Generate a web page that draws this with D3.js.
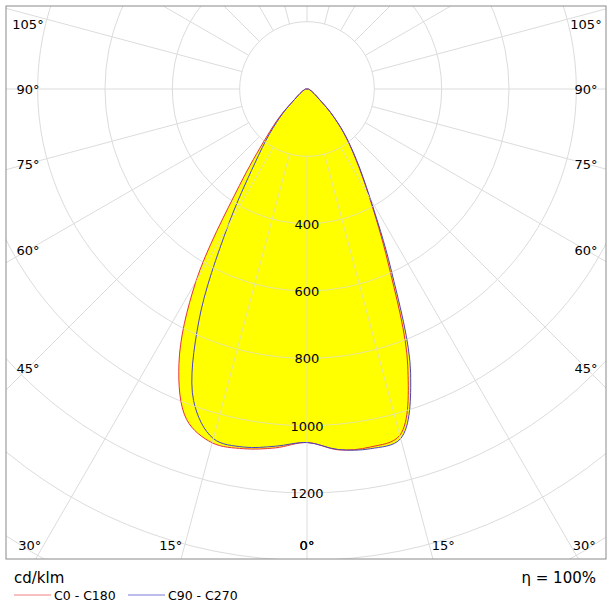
<!DOCTYPE html>
<html><head><meta charset="utf-8">
<script src="https://cdn.jsdelivr.net/npm/d3@7"></script>
<style>body{margin:0;background:#fff}</style>
</head><body><svg id="c" width="616" height="611"></svg>
<script>
// gamma angles (deg) for each half plane
const gammas = [0,5,10,15,20,25,30,35,40,45,50,55,60,65,70,75,80,85,90];
// cd/klm values
const c180 = [1050,1070,1085,1088,1045,900,660,350,190,110,48,30,20,15,10,8,6,5,4];
const c0   = [1050,1076,1080,1065,875,570,370,250,170,100,48,30,20,15,10,8,6,5,4];
const c270 = [1050,1065,1080,1075,985,760,470,272,172,100,48,30,20,15,10,8,6,5,4];
const c90  = [1050,1075,1085,1075,900,590,375,255,170,100,48,30,20,15,10,8,6,5,4];
const rings = [200,400,600,800,1000,1200,1400,1600,1800];
const ringLabels = [400,600,800,1000,1200];
const sideAngles = [45,60,75,90,105];
const bottomAngles = [0,15,30];

const svg = d3.select('#c');
const font = 'Tahoma, "DejaVu Sans", sans-serif';
const frame = {x0: 6, y0: 6, x1: 606, y1: 559};
const cx = 307, cy = 89;
const r = d3.scaleLinear().domain([0, 1200]).range([0, 404]);

// point for gamma (deg from nadir), side -1 left / +1 right
const pt = (g, v, side) => {
  const a = g * Math.PI / 180;
  return [cx + side * r(v) * Math.sin(a), cy + r(v) * Math.cos(a)];
};

svg.append('clipPath').attr('id', 'clip').append('rect')
  .attr('x', frame.x0).attr('y', frame.y0)
  .attr('width', frame.x1 - frame.x0).attr('height', frame.y1 - frame.y0);

const grid = svg.append('g').attr('clip-path', 'url(#clip)');
grid.selectAll('circle').data(rings).join('circle')
  .attr('cx', cx).attr('cy', cy).attr('r', d => r(d))
  .attr('fill', 'none').attr('stroke', '#dcdcdc').attr('stroke-width', 1);
grid.selectAll('line').data(d3.range(0, 360, 15)).join('line')
  .attr('x1', d => pt(d, 200, 1)[0]).attr('y1', d => pt(d, 200, 1)[1])
  .attr('x2', d => pt(d, 2400, 1)[0]).attr('y2', d => pt(d, 2400, 1)[1])
  .attr('stroke', '#dcdcdc').attr('stroke-width', 1);

const line = d3.line().curve(d3.curveCatmullRom.alpha(0.5));
function outline(left, right) {
  const pts = [];
  for (let i = gammas.length - 1; i >= 0; i--) pts.push(pt(gammas[i], left[i], -1));
  for (let i = 1; i < gammas.length; i++) pts.push(pt(gammas[i], right[i], 1));
  return line(pts) + 'Z';
}
const curves = [
  {left: c180, right: c0, color: '#e8303c'},
  {left: c270, right: c90, color: '#4a44c8'}
];
const plot = svg.append('g');
plot.selectAll('path.fill').data(curves).join('path').attr('class', 'fill')
  .attr('d', d => outline(d.left, d.right)).attr('fill', '#ffff00');

// grid shows faintly over fill
const g2 = svg.append('g').attr('clip-path', 'url(#clip)').attr('opacity', 0.9);
g2.selectAll('circle').data(rings).join('circle')
  .attr('cx', cx).attr('cy', cy).attr('r', d => r(d))
  .attr('fill', 'none').attr('stroke', '#e4e4b0');
g2.selectAll('line').data(d3.range(-30, 31, 15)).join('line')
  .attr('x1', d => pt(Math.abs(d), 200, Math.sign(d) || 1)[0]).attr('y1', d => pt(Math.abs(d), 200, 1)[1])
  .attr('x2', d => pt(Math.abs(d), 1200, Math.sign(d) || 1)[0]).attr('y2', d => pt(Math.abs(d), 1200, 1)[1])
  .attr('stroke', '#e4e4b0');
g2.append('clipPath').attr('id', 'inFill').selectAll('path').data(curves).join('path')
  .attr('d', d => outline(d.left, d.right));
g2.attr('clip-path', 'url(#inFill)');

plot.selectAll('path.stroke').data(curves).join('path').attr('class', 'stroke')
  .attr('d', d => outline(d.left, d.right))
  .attr('fill', 'none').attr('stroke', d => d.color).attr('stroke-width', 1);

svg.append('rect').attr('x', frame.x0).attr('y', frame.y0)
  .attr('width', frame.x1 - frame.x0).attr('height', frame.y1 - frame.y0)
  .attr('fill', 'none').attr('stroke', '#8a8a8a');

svg.selectAll('text.rl').data(ringLabels).join('text').attr('class', 'rl')
  .attr('x', cx).attr('y', d => cy + r(d) + 5).attr('text-anchor', 'middle')
  .attr('font-family', font).attr('font-size', 13).text(d => d);

const sideY = g => Math.max(24, cy + (cx - 28) / Math.tan(g * Math.PI / 180));
[-1, 1].forEach(s => {
  svg.selectAll(null).data(sideAngles).join('text')
    .attr('x', s < 0 ? 28 : 586).attr('y', d => sideY(d) + 5).attr('text-anchor', 'middle')
    .attr('font-family', font).attr('font-size', 13).text(d => d + '°');
  svg.selectAll(null).data(bottomAngles).join('text')
    .attr('x', d => d === 0 ? cx : cx + s * Math.min(279, (545 - cy) * Math.tan(d * Math.PI / 180) + 14))
    .attr('y', 550).attr('text-anchor', 'middle')
    .attr('font-family', font).attr('font-size', 13).text(d => d + '°');
});

svg.append('text').attr('x', 14).attr('y', 583).attr('font-family', font)
  .attr('font-size', 15).text('cd/klm');
svg.append('text').attr('x', 596).attr('y', 583).attr('text-anchor', 'end')
  .attr('font-family', font).attr('font-size', 15).text('η = 100%');
const legend = [{name: 'C0 - C180', color: '#f08080', x: 14}, {name: 'C90 - C270', color: '#7b7bd8', x: 128}];
legend.forEach(l => {
  svg.append('line').attr('x1', l.x).attr('x2', l.x + 37).attr('y1', 595).attr('y2', 595)
    .attr('stroke', l.color);
  svg.append('text').attr('x', l.x + 40).attr('y', 600).attr('font-family', font)
    .attr('font-size', 12.5).text(l.name);
});
</script></body></html>
